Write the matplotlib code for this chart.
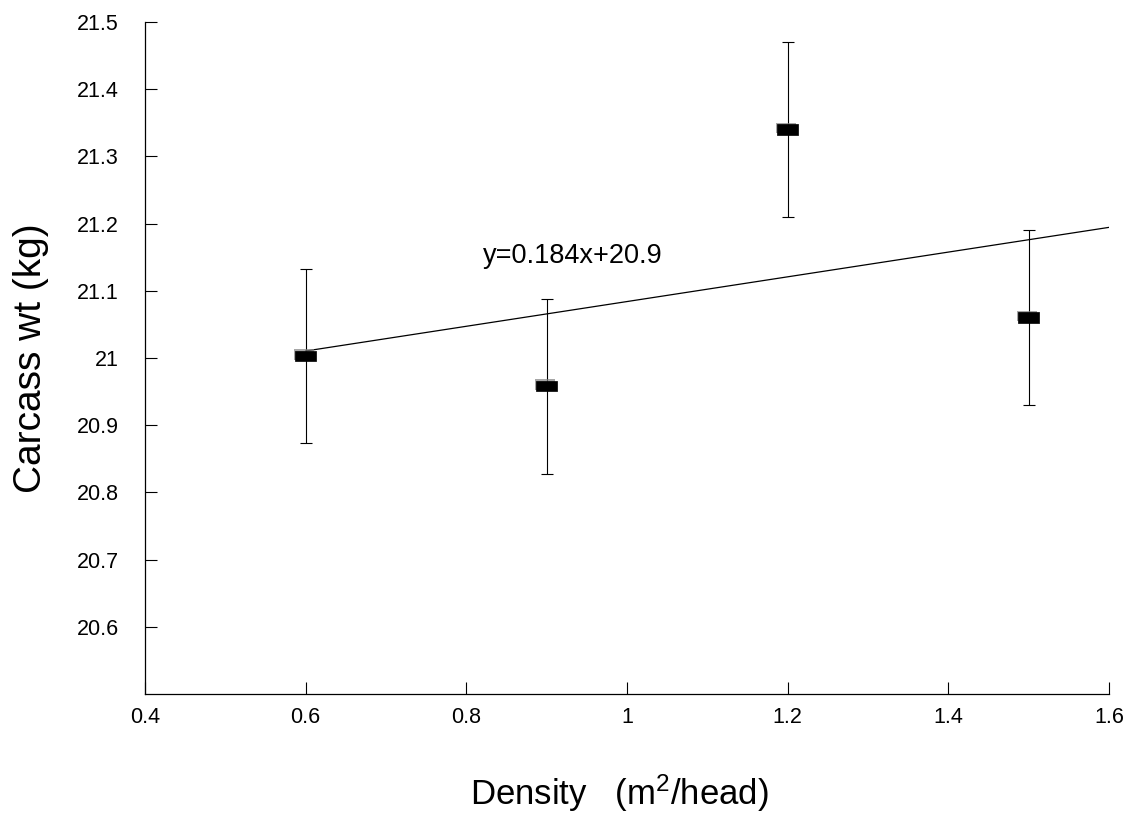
import matplotlib
matplotlib.use("Agg")
import matplotlib.pyplot as plt
import matplotlib.patheffects as pe
from matplotlib.path import Path

plt.rcParams['font.family'] = ['Liberation Sans', 'DejaVu Sans']
plt.rcParams['mathtext.fontset'] = 'custom'
plt.rcParams['mathtext.rm'] = 'Liberation Sans'
plt.rcParams['mathtext.it'] = 'Liberation Sans'

# ---- data ----
density = [0.6, 0.9, 1.2, 1.5]
carcass_wt = [21.003, 20.958, 21.34, 21.06]
err = [0.13, 0.13, 0.13, 0.13]
fit_slope = 0.184
fit_intercept = 20.9
fit_x = [0.6, 1.6]
fit_label = "y=0.184x+20.9"
xticks = [0.4, 0.6, 0.8, 1.0, 1.2, 1.4, 1.6]
xtick_labels = ['0.4', '0.6', '0.8', '1', '1.2', '1.4', '1.6']
yticks = [20.6, 20.7, 20.8, 20.9, 21.0, 21.1, 21.2, 21.3, 21.4, 21.5]
ytick_labels = ['20.6', '20.7', '20.8', '20.9', '21', '21.1', '21.2', '21.3', '21.4', '21.5']

fig = plt.figure(figsize=(11.27, 8.13), dpi=100)
ax = fig.add_axes([145/1127, 1-694/813, 964/1127, 672/813])

rect = Path([(-1, -0.5), (1, -0.5), (1, 0.5), (-1, 0.5), (-1, -0.5)],
            [Path.MOVETO, Path.LINETO, Path.LINETO, Path.LINETO, Path.CLOSEPOLY])

fit_y = [fit_slope * x + fit_intercept for x in fit_x]
ax.plot(fit_x, fit_y, color='black', lw=0.9, zorder=2)

ax.errorbar(density, carcass_wt, yerr=err, fmt='none', ecolor='black',
            elinewidth=0.8, capsize=4.5, capthick=0.8, zorder=3)
ln, = ax.plot(density, carcass_wt, linestyle='none', marker=rect, markersize=15,
              markerfacecolor='black', markeredgecolor='black', markeredgewidth=0.5,
              zorder=4)
ln.set_path_effects([pe.SimplePatchShadow(offset=(-1.2, 1.2), shadow_rgbFace='0.5', alpha=0.7),
                     pe.Normal()])

ax.text(0.8207, 21.141, fit_label, fontsize=19.5, ha='left', va='baseline')

ax.set_xlim(0.4, 1.6)
ax.set_ylim(20.5, 21.5)
ax.set_xticks(xticks)
ax.set_xticklabels(xtick_labels)
ax.set_yticks(yticks)
ax.set_yticklabels(ytick_labels)

for s in ['top', 'right']:
    ax.spines[s].set_visible(False)
for s in ['left', 'bottom']:
    ax.spines[s].set_linewidth(0.9)

ax.tick_params(axis='both', direction='in', length=8.5, width=0.8, labelsize=15.5)
ax.tick_params(axis='y', pad=19)
ax.tick_params(axis='x', pad=9)

ax.set_ylabel('Carcass wt (kg)', fontsize=28)
ax.yaxis.set_label_coords(-0.118, 0.5)
ax.yaxis.label.set_va('center')

ax.set_xlabel(r'Density   (m$^{2}$/head)', fontsize=25)
ax.xaxis.set_label_coords(0.4917, -0.165)
ax.xaxis.label.set_va('baseline')

fig.savefig('out.png', dpi=100)
